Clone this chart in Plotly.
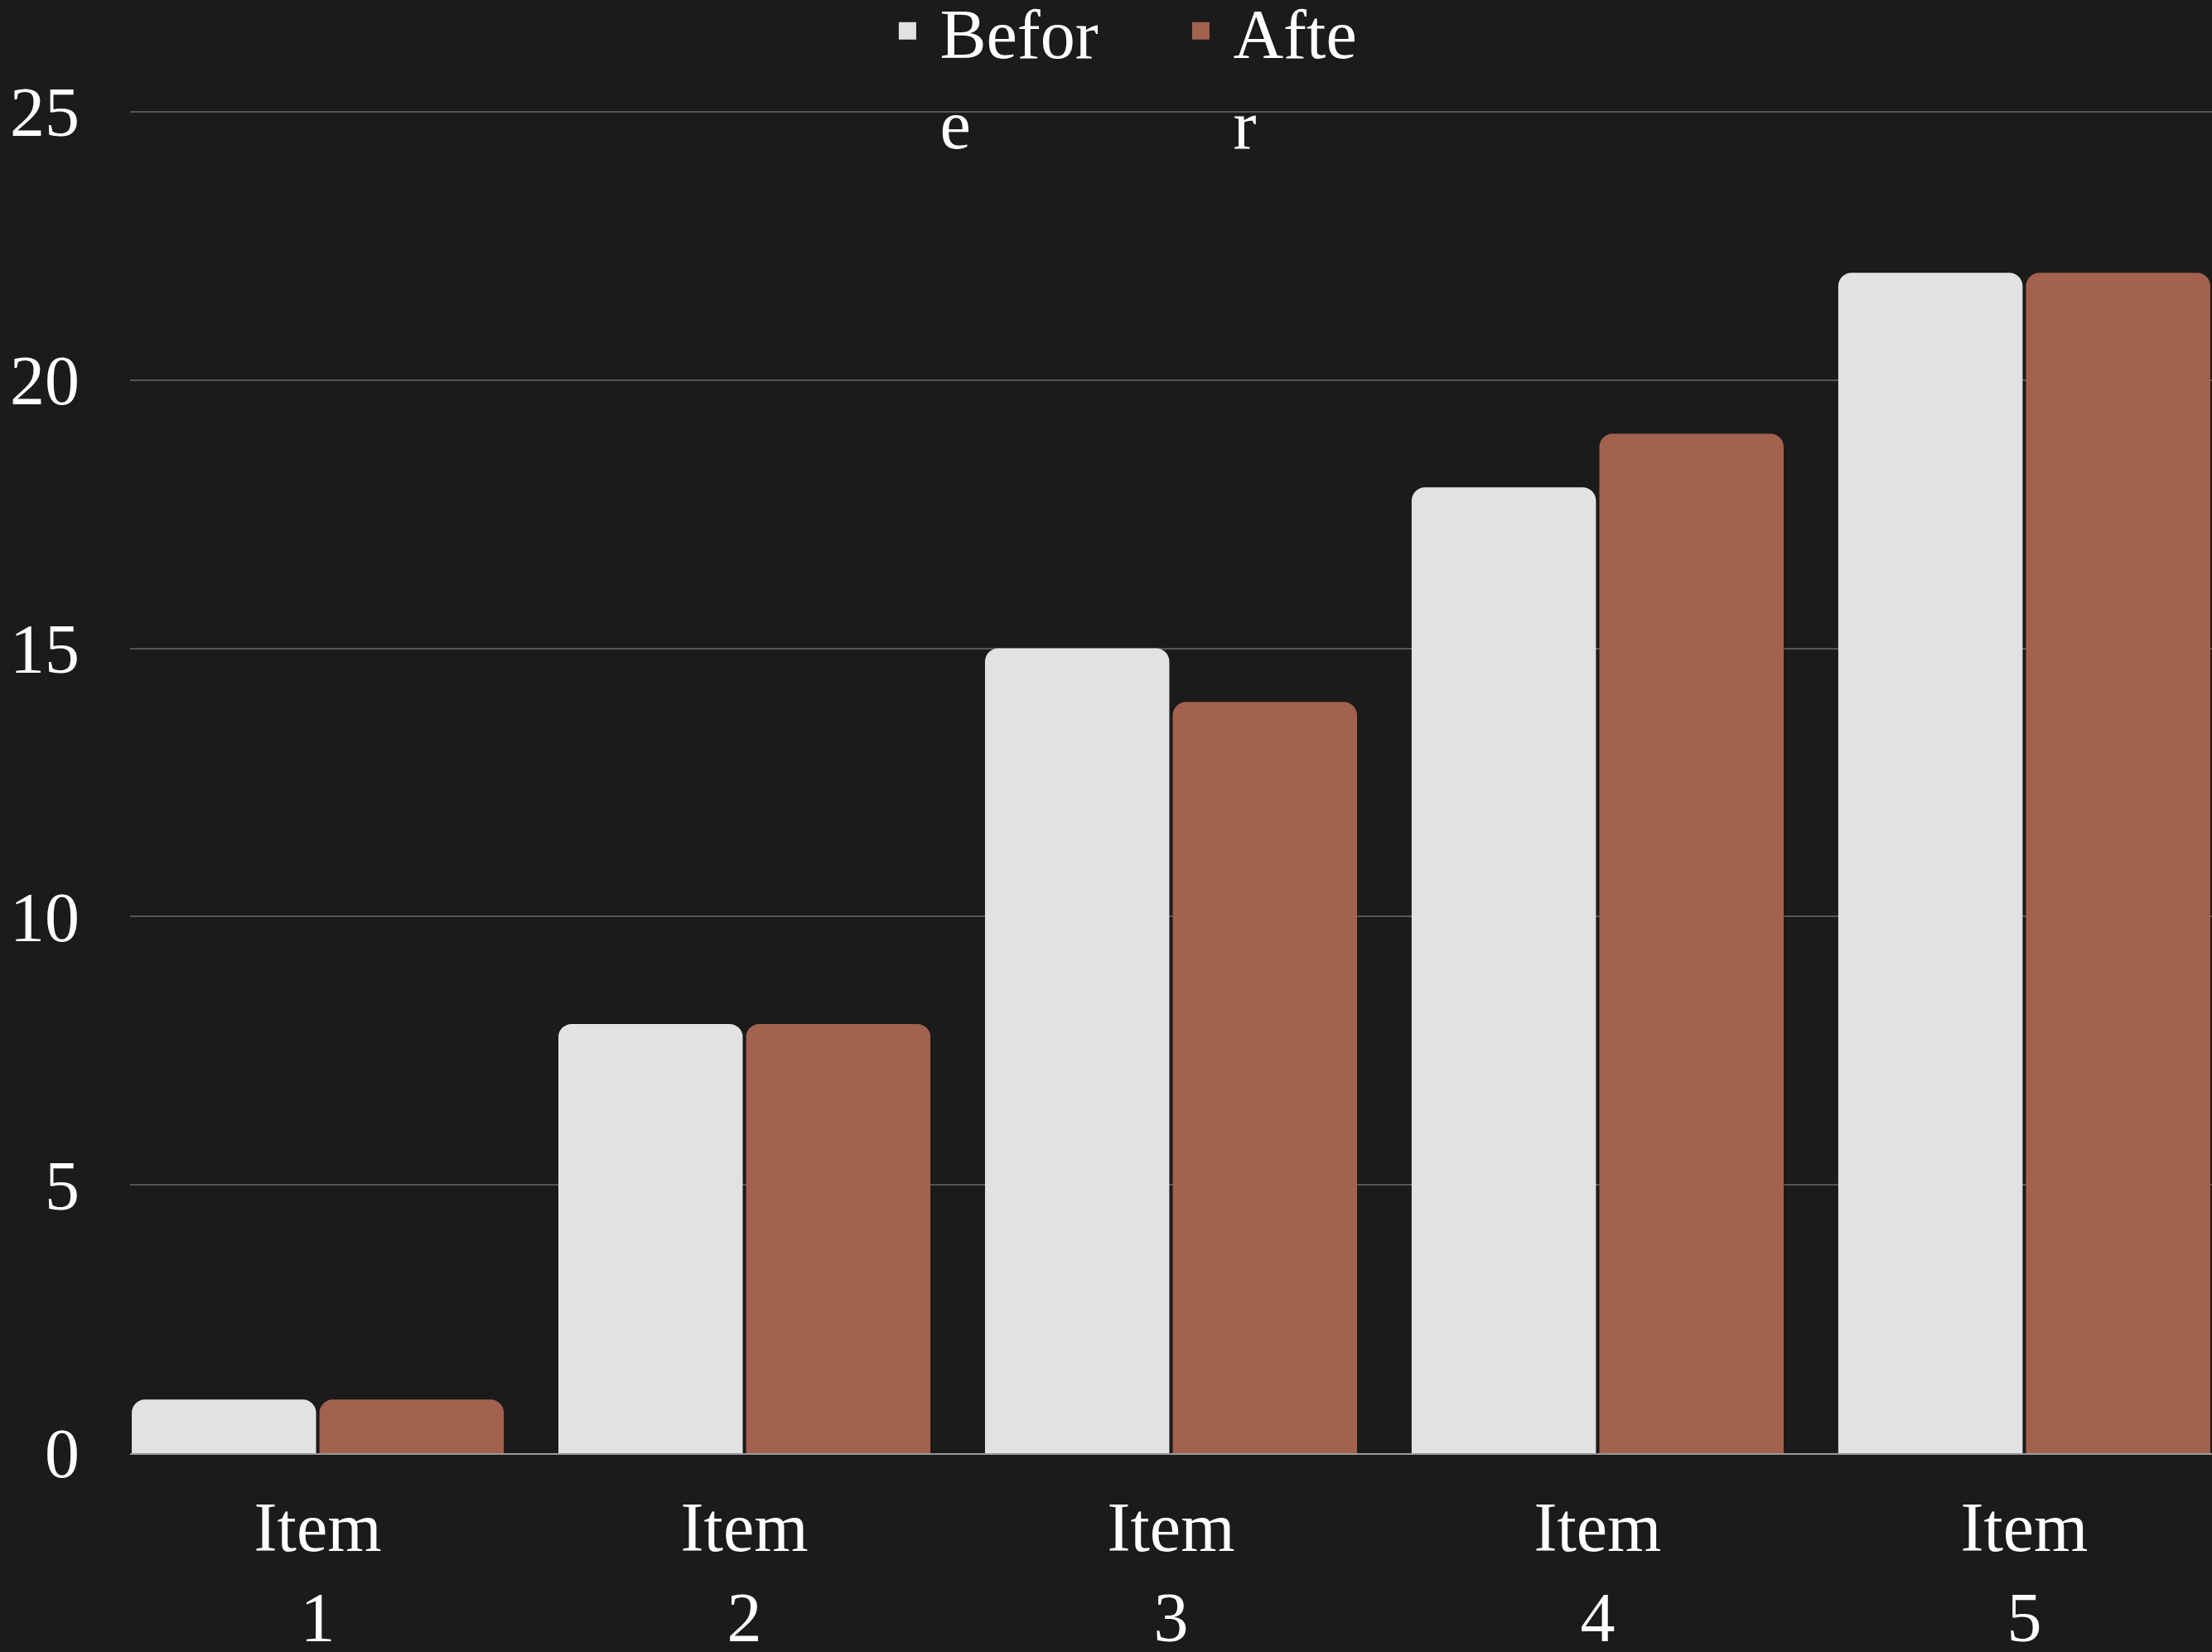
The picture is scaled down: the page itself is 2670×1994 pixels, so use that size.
import plotly.graph_objects as go

categories = ["Item<br>1", "Item<br>2", "Item<br>3", "Item<br>4", "Item<br>5"]
series_names = ["Befor<br>e", "Afte<br>r"]
before_values = [1, 8, 15, 18, 22]
after_values = [1, 8, 14, 19, 22]
y_ticks = [0, 5, 10, 15, 20, 25]

BG = "#1b1b1b"
FONT = "Liberation Serif"
COLORS = ["#e2e2e2", "#a2624e"]

x_idx = list(range(len(categories)))

fig = go.Figure()
for name, vals, col in zip(series_names, [before_values, after_values], COLORS):
    fig.add_trace(go.Bar(
        x=x_idx, y=vals, name=name, showlegend=False,
        marker=dict(color=col, line=dict(width=0)),
    ))
# legend-only entries (larger square swatches)
for name, col in zip(series_names, COLORS):
    fig.add_trace(go.Scatter(
        x=[None], y=[None], name=name, mode="markers", showlegend=True,
        marker=dict(symbol="square", size=16, color=col,
                    line=dict(color=col, width=5)),
        hoverinfo="skip",
    ))

fig.update_layout(
    width=2670, height=1994,
    paper_bgcolor=BG, plot_bgcolor=BG,
    margin=dict(l=157, r=0, t=133, b=240, pad=0, autoexpand=False),
    font=dict(family=FONT, size=84, color="#ffffff"),
    barmode="group", bargap=0.12, bargroupgap=0.018,
    barcornerradius=16,
    showlegend=True,
    legend=dict(
        orientation="h",
        x=0.3579, y=1.0967, xanchor="left", yanchor="top",
        itemwidth=68, entrywidth=271, valign="top",
        bgcolor="rgba(0,0,0,0)",
        font=dict(family=FONT, size=84, color="#ffffff"),
        traceorder="normal",
    ),
    xaxis=dict(
        tickmode="array", tickvals=x_idx, ticktext=categories,
        range=[-0.44, len(categories) - 1 + 0.44],
        showgrid=False, zeroline=False,
        showline=True, linecolor="#9a9a9a", linewidth=2,
        ticks="", ticklabelstandoff=15,
        tickfont=dict(family=FONT, size=84, color="#ffffff"),
    ),
    yaxis=dict(
        range=[0, 25.03], tickmode="array", tickvals=y_ticks,
        showgrid=True, gridcolor="#555555", gridwidth=2,
        zeroline=False, showline=False, ticks="",
        ticklabelstandoff=60,
        tickfont=dict(family=FONT, size=84, color="#ffffff"),
    ),
)

fig.write_html("out.html")
